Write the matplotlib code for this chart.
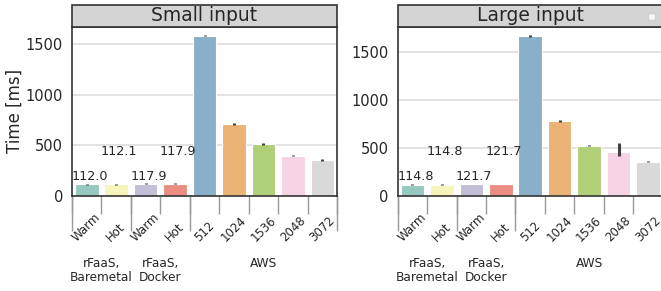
import matplotlib
matplotlib.use("Agg")
import matplotlib.pyplot as plt
import matplotlib.patches as patches
import numpy as np
import seaborn as sns

# data
labels = ["Warm", "Hot", "Warm", "Hot", "512", "1024", "1536", "2048", "3072"]
groups = ["rFaaS,\nBaremetal", "rFaaS,\nDocker", "AWS"]
group_sizes = [2, 2, 5]

small_time = [112.0, 112.1, 117.9, 117.9, 1585, 710, 512, 395, 352]
small_err_lo = [3, 3, 3, 3, 6, 8, 6, 5, 5]
small_err_hi = [3, 3, 3, 3, 8, 10, 6, 5, 7]

large_time = [114.8, 114.8, 121.7, 121.7, 1672, 783, 522, 452, 352]
large_err_lo = [3, 3, 3, 3, 6, 8, 6, 37, 5]
large_err_hi = [3, 3, 3, 3, 10, 10, 8, 100, 10]

# rFaaS bars get their value written above them
n_annot = 4

colors = sns.color_palette("Set3", len(labels), desat=0.75)
TXT = "0.15"

fig = plt.figure(figsize=(6.61, 2.91), dpi=100)
W, H = 661, 291

def panel(left_px, title, values, err_lo, err_hi, ylabel=None):
    ax = fig.add_axes([left_px / W, (H - 195.5) / H, 265 / W, 168.5 / H])
    x = np.arange(len(labels))
    ax.bar(x, values, width=0.8, color=colors, edgecolor="white", linewidth=0.8,
           yerr=[err_lo, err_hi], error_kw=dict(ecolor="0.26", elinewidth=2.2, capsize=0),
           zorder=2)
    ax.set_xlim(-0.5, len(labels) - 0.5)
    ax.set_yticks([0, 500, 1000, 1500])
    ax.yaxis.grid(True, color="0.86", linewidth=1.1)
    ax.set_axisbelow(True)
    for s in ax.spines.values():
        s.set_color("0.2")
        s.set_linewidth(1.2)
    ax.tick_params(axis="y", length=0, pad=6.5, labelsize=10.5, labelcolor=TXT)

    # labels at bar centres, short ticks at bar edges
    ax.set_xticks(x)
    ax.set_xticklabels(labels, rotation=45, ha="center", va="bottom",
                       fontsize=8.5, color=TXT)
    ax.tick_params(axis="x", which="major", length=0, pad=35)
    ax.set_xticks(np.arange(len(labels) + 1) - 0.5, minor=True)
    ax.tick_params(axis="x", which="minor", length=12.6, width=1, color="0.6")

    # long ticks at group edges
    edges = np.concatenate([[0], np.cumsum(group_sizes)]) - 0.5
    sec = ax.secondary_xaxis("bottom")
    sec.set_xticks(edges)
    sec.tick_params(axis="x", length=25, width=1, color="0.6", labelbottom=False)
    sec.spines["bottom"].set_visible(False)

    # group names
    starts = edges[:-1]
    for g, st, n in zip(groups, starts, group_sizes):
        ax.text(st + n / 2, -0.365, g, transform=ax.get_xaxis_transform(),
                ha="center", va="top", fontsize=8.7, color=TXT, linespacing=1.05)

    # value annotations, alternating heights
    for i in range(n_annot):
        yy = 0.092 if i % 2 == 0 else 0.24
        ax.text(x[i] + 0.1, yy, f"{values[i]:.1f}", transform=ax.get_xaxis_transform(),
                ha="center", va="baseline", fontsize=9.2, color=TXT)

    # facet strip
    strip_h = 22 / 168.5
    ax.add_patch(patches.Rectangle((0, 1), 1, strip_h, transform=ax.transAxes,
                                   facecolor="0.83", edgecolor="0.2", linewidth=1.2,
                                   clip_on=False, zorder=3))
    ax.text(0.5, 1 + strip_h / 2, title, transform=ax.transAxes, ha="center",
            va="center", fontsize=13.5, color=TXT, zorder=4)

    if ylabel:
        ax.set_ylabel(ylabel, fontsize=12, color=TXT, labelpad=1)
    return ax

ax1 = panel(72, "Small input", small_time, small_err_lo, small_err_hi, ylabel="Time [ms]")
ax2 = panel(397.7, "Large input", large_time, large_err_lo, large_err_hi)

fig.legend(handles=[], labels=[], loc="upper right",
           bbox_to_anchor=(659 / W, 1 - 9 / H), fontsize=6, frameon=True)

fig.savefig("out.png", dpi=100)
